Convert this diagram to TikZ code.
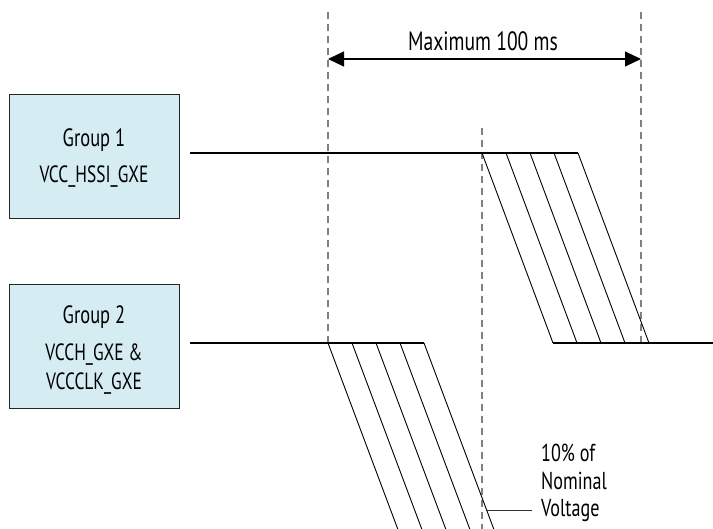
\documentclass[tikz,border=0pt]{standalone}
\usepackage{fontspec}
\setmainfont[FakeStretch=0.74]{PT Sans}
\usetikzlibrary{arrows.meta}
\definecolor{boxfill}{RGB}{213,236,243}
\definecolor{dashgray}{RGB}{128,128,128}
\tikzset{
  groupbox/.style={draw=black!85, line width=0.9pt, fill=boxfill, minimum width=170pt, minimum height=124pt, inner sep=0pt},
  biglabel/.style={font=\fontsize{25}{25}\selectfont, inner sep=0pt},
  smalllabel/.style={font=\fontsize{23.5}{23.5}\selectfont, inner sep=0pt},
  wave/.style={line width=1.1pt, black},
  slant/.style={line width=0.9pt, black},
  guide/.style={dashgray, line width=1.4pt, dash pattern=on 7pt off 5pt},
  span/.style={line width=1.1pt, {Triangle[length=16pt,width=15pt]}-{Triangle[length=16pt,width=15pt]}}
}
\begin{document}
\begin{tikzpicture}[x=1pt,y=-1pt]
\useasboundingbox (0,0) rectangle (713,529);
% boxes
\node[groupbox] (g1) at (94,156) {};
\node[biglabel] (g1a) at (94,140) {Group 1};
\node[smalllabel] (g1b) at (94,177) {VCC\_HSSI\_GXE};
\node[groupbox] (g2) at (94,346) {};
\node[biglabel] (g2a) at (94,317) {Group 2};
\node[smalllabel] (g2b) at (94,355) {VCCH\_GXE \&};
\node[smalllabel] (g2c) at (94,384) {VCCCLK\_GXE};
% dashed guides
\coordinate (dl1) at (328,12);  \coordinate (dl2) at (328,343);
\coordinate (dr1) at (641,12);  \coordinate (dr2) at (641,343);
\coordinate (dm1) at (482,128); \coordinate (dm2) at (482,529);
\draw[guide] (dl1) -- (dl2);
\draw[guide] (dr1) -- (dr2);
\draw[guide] (dm1) -- (dm2);
% span arrow
\coordinate (al) at (328,59); \coordinate (ar) at (641,59);
\draw[span] (al) -- (ar);
\node[font=\fontsize{26.5}{26.5}\selectfont, inner sep=0pt] (maxlbl) at (483,41) {Maximum 100 ms};
% group 1 waveform
\coordinate (w1s) at (190,153); \coordinate (w1e) at (578,153);
\coordinate (w1bs) at (553,343); \coordinate (w1be) at (713,343);
\draw[wave] (w1s) -- (w1e);
\draw[wave] (w1bs) -- (w1be);
\foreach \k in {0,1,2,3,4}{
  \coordinate (t\k) at ({482+24*\k},153);
  \coordinate (b\k) at ({553+24*\k},343);
  \draw[slant] (t\k) -- (b\k);
}
% group 2 waveform
\coordinate (w2s) at (190,343); \coordinate (w2e) at (424,343);
\draw[wave] (w2s) -- (w2e);
\begin{scope}
\clip (0,0) rectangle (713,529);
\foreach \k in {0,1,2,3,4}{
  \coordinate (u\k) at ({328+24*\k},343);
  \coordinate (v\k) at ({328+24*\k+0.375*200},543);
  \draw[slant] (u\k) -- (v\k);
}
\end{scope}
% annotation
\coordinate (n1) at (487,510); \coordinate (n2) at (532,510);
\draw[line width=0.9pt, black!80] (n1) -- (n2);
\node[anchor=west, align=left, inner sep=0pt, font=\fontsize{24.5}{27.5}\selectfont] (nom) at (541,483) {10\% of\\Nominal\\Voltage};
\end{tikzpicture}
\end{document}
